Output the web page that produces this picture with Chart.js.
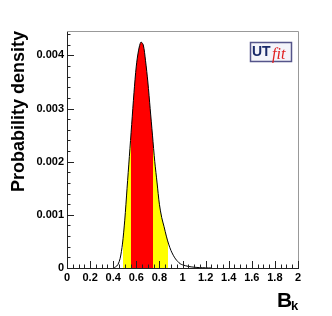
<!DOCTYPE html>
<html>
<head>
<meta charset="utf-8">
<script src="https://cdn.jsdelivr.net/npm/chart.js@4/dist/chart.umd.min.js"></script>
<style>
  html, body { margin: 0; padding: 0; background: #fff; }
  #wrap { width: 332px; height: 316px; }
</style>
</head>
<body>
<div id="wrap"><canvas id="bkChart" width="332" height="316"></canvas></div>
<script>
// ===== DATA =====
const bkValues = [0.40, 0.42, 0.44, 0.46, 0.48, 0.50, 0.52, 0.54, 0.56, 0.58,
  0.60, 0.62, 0.64, 0.66, 0.68, 0.70, 0.72, 0.74, 0.76, 0.78,
  0.80, 0.82, 0.84, 0.86, 0.88, 0.90, 0.92, 0.94, 0.96, 0.98,
  1.00, 1.05, 1.10, 1.15, 1.20, 1.25];
const density = [0, 0.00002, 0.00006, 0.00018, 0.00045, 0.0009, 0.0015, 0.0021, 0.0027, 0.0033,
  0.0038, 0.0041, 0.00425, 0.0042, 0.0039, 0.0035, 0.0030, 0.0025, 0.0020, 0.0016,
  0.0012, 0.00095, 0.00078, 0.0006, 0.00045, 0.00033, 0.00024, 0.00017, 0.00012, 0.00008,
  0.00006, 0.00003, 0.000015, 0.000007, 0.000003, 0];
// 95% (yellow) and 68% (red) intervals
const band95 = [0.485, 0.871];
const band68 = [0.551, 0.745];
const xTickValues = [0, 0.2, 0.4, 0.6, 0.8, 1, 1.2, 1.4, 1.6, 1.8, 2];
const yTickValues = [0, 0.001, 0.002, 0.003, 0.004];

const YELLOW = "#ffff00";
const RED = "#ff0000";

// horizontal gradient with hard stops so the fill shows the intervals
function bandFill(context) {
  const chart = context.chart;
  const area = chart.chartArea;
  if (!area) return "rgba(0,0,0,0)";
  const xs = chart.scales.x;
  const g = chart.ctx.createLinearGradient(area.left, 0, area.right, 0);
  const w = area.right - area.left;
  const pos = v => Math.min(1, Math.max(0, (xs.getPixelForValue(v) - area.left) / w));
  const clear = "rgba(255,255,255,0)";
  g.addColorStop(0, clear);
  g.addColorStop(pos(band95[0]), clear);
  g.addColorStop(pos(band95[0]), YELLOW);
  g.addColorStop(pos(band68[0]), YELLOW);
  g.addColorStop(pos(band68[0]), RED);
  g.addColorStop(pos(band68[1]), RED);
  g.addColorStop(pos(band68[1]), YELLOW);
  g.addColorStop(pos(band95[1]), YELLOW);
  g.addColorStop(pos(band95[1]), clear);
  g.addColorStop(1, clear);
  return g;
}

// ROOT-like frame: ticks inside, top/right border, axis title, logo
const frameDecor = {
  id: "frameDecor",
  afterDraw(chart) {
    const { ctx, chartArea: a, scales } = chart;
    ctx.save();
    ctx.strokeStyle = "#999";
    ctx.lineWidth = 1;
    ctx.beginPath();
    ctx.moveTo(a.left, a.top + 0.5);
    ctx.lineTo(a.right + 0.5, a.top + 0.5);
    ctx.lineTo(a.right + 0.5, a.bottom);
    ctx.stroke();

    ctx.strokeStyle = "#222";
    ctx.beginPath();
    for (let i = 0; i <= 40; i++) {
      const v = i * 0.05;
      const x = Math.round(scales.x.getPixelForValue(v)) + 0.5;
      const len = i % 4 === 0 ? 7 : 3.5;
      ctx.moveTo(x, a.bottom);
      ctx.lineTo(x, a.bottom - len);
    }
    for (let i = 0; i <= 22; i++) {
      const v = i * 0.0002;
      const y = Math.round(scales.y.getPixelForValue(v)) + 0.5;
      if (y < a.top) continue;
      const len = i % 5 === 0 ? 7 : 3.5;
      ctx.moveTo(a.left, y);
      ctx.lineTo(a.left + len, y);
    }
    ctx.stroke();

    // axis title B_k
    ctx.fillStyle = "#000";
    ctx.textBaseline = "alphabetic";
    ctx.textAlign = "left";
    ctx.font = "bold 21px 'Liberation Sans', Arial, sans-serif";
    ctx.fillText("B", 277, 307);
    ctx.font = "bold 13px 'Liberation Sans', Arial, sans-serif";
    ctx.fillText("k", 291, 310);

    // UTfit logo
    ctx.fillStyle = "#f4f4fa";
    ctx.fillRect(250.5, 42.5, 41, 19);
    ctx.strokeStyle = "#55558a";
    ctx.lineWidth = 1.5;
    ctx.strokeRect(250.5, 42.5, 41, 19);
    ctx.fillStyle = "#1a2a6a";
    ctx.font = "bold 14px 'Liberation Sans', Arial, sans-serif";
    ctx.fillText("UT", 252, 56);
    ctx.fillStyle = "#e02020";
    ctx.font = "italic 16px 'Liberation Serif', serif";
    ctx.fillText("fit", 272, 59);
    ctx.restore();
  },
};

const ctx = document.getElementById("bkChart").getContext("2d");

new Chart(ctx, {
  type: "line",
  data: {
    labels: bkValues,
    datasets: [
      {
        label: "B_k",
        data: bkValues.map((x, i) => ({ x: x, y: density[i] })),
        borderColor: "#000",
        borderWidth: 1,
        backgroundColor: bandFill,
        fill: "origin",
        pointRadius: 0,
        tension: 0.3,
      },
    ],
  },
  options: {
    responsive: false,
    animation: false,
    layout: { padding: { left: 0, top: 31, right: 34, bottom: 0 } },
    plugins: { legend: { display: false }, tooltip: { enabled: false } },
    scales: {
      x: {
        type: "linear",
        min: 0,
        max: 2,
        afterBuildTicks: s => { s.ticks = xTickValues.map(v => ({ value: v })); },
        afterFit: s => { s.height = 48; },
        grid: { display: false, drawTicks: false },
        border: { display: true, color: "#222", width: 1 },
        ticks: {
          color: "#000",
          padding: 3,
          maxRotation: 0,
          autoSkip: false,
          font: { family: "'Liberation Sans', Arial, sans-serif", size: 11, weight: "bold" },
          callback: v => String(+v.toFixed(1)),
        },
      },
      y: {
        type: "linear",
        min: 0,
        max: 0.00446,
        afterBuildTicks: s => { s.ticks = yTickValues.map(v => ({ value: v })); },
        afterFit: s => { s.width = 67; },
        grid: { display: false, drawTicks: false },
        border: { display: true, color: "#222", width: 1 },
        title: {
          display: true,
          text: "Probability density",
          align: "end",
          color: "#000",
          padding: { top: 8, bottom: 0 },
          font: { family: "'Liberation Sans', Arial, sans-serif", size: 18, weight: "bold" },
        },
        ticks: {
          color: "#000",
          padding: 3,
          autoSkip: false,
          font: { family: "'Liberation Sans', Arial, sans-serif", size: 11, weight: "bold" },
          callback: v => (v === 0 ? "0" : v.toFixed(3)),
        },
      },
    },
  },
  plugins: [frameDecor],
});
</script>
</body>
</html>
